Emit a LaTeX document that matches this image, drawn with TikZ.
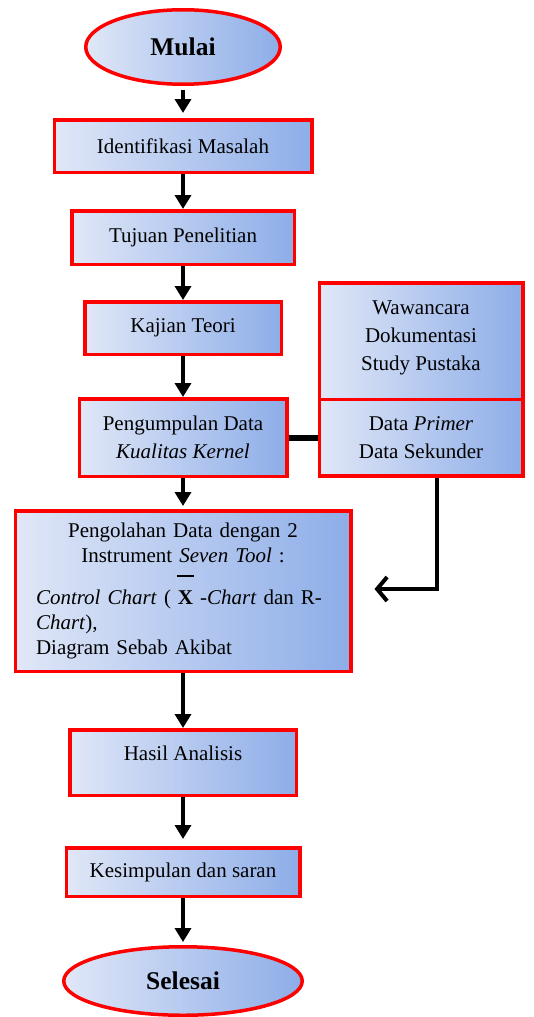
\documentclass[tikz,border=0pt]{standalone}
\usepackage{fontspec}
\setmainfont{Liberation Serif}
\usepackage{tikz}
\usetikzlibrary{arrows.meta,shapes,positioning,calc}
\definecolor{fcleft}{RGB}{224,231,247}
\definecolor{fcright}{RGB}{141,173,232}
\definecolor{fcred}{RGB}{255,0,0}
\tikzstyle{flowbox} = [rectangle, draw=fcred, line width=3.5pt, left color=fcleft, right color=fcright, minimum height=52.5pt, align=center, font=\fontsize{21}{28}\selectfont]
\tikzstyle{terminal} = [ellipse, draw=fcred, line width=3.5pt, left color=fcleft, right color=fcright, inner sep=0pt, font=\fontsize{25.5}{30}\selectfont\bfseries]
\tikzstyle{arrow} = [line width=3.5pt, -{Triangle[length=14pt,width=16pt]}]
\tikzstyle{feedarrow} = [line width=4pt, -{Straight Barb[length=10pt,width=24pt]}]

\begin{document}
\begin{tikzpicture}[x=1pt, y=1pt, node distance=35pt]
\useasboundingbox (0,0) rectangle (533,-1017);
% Main flow
\node[terminal, minimum width=194.5pt, minimum height=74.5pt] at (183,-47) (mulai) {Mulai};
\node[flowbox, minimum width=257.5pt, below=32pt of mulai] (ident) {Identifikasi Masalah};
\node[flowbox, minimum width=222.5pt, minimum height=53.5pt, below=35pt of ident] (tujuan) {Tujuan Penelitian};
\node[flowbox, minimum width=196.5pt, below=34pt of tujuan] (kajian) {Kajian Teori};
\node[flowbox, minimum width=207.5pt, minimum height=77.5pt, below=41pt of kajian] (peng) {Pengumpulan Data\\ \textit{Kualitas Kernel}};
\node[flowbox, minimum width=335.5pt, minimum height=160.5pt, text width=294pt, align=left, font=\fontsize{21}{25}\selectfont, below=31pt of peng] (olah) {{\centering Pengolahan Data dengan 2\\ Instrument \textit{Seven Tool} :\par}\vspace{12pt}
\textit{Control Chart} ( \rlap{\hspace{-1pt}\rule[28pt]{17pt}{1.5pt}}\textbf{X} -\textit{Chart} dan R-\\
\textit{Chart}),\\
Diagram Sebab Akibat};
\node[flowbox, minimum width=226.5pt, minimum height=65.5pt, text height=12pt, text depth=17pt, below=55pt of olah] (hasil) {Hasil Analisis};
\node[flowbox, minimum width=233.5pt, minimum height=48.5pt, below=49pt of hasil] (simpul) {Kesimpulan dan saran};
\node[terminal, minimum width=238.5pt, minimum height=68.5pt, below=47pt of simpul] (selesai) {Selesai};

% Data sources
\node[flowbox, minimum width=203.5pt, minimum height=76.5pt, right=29pt of peng] (data) {Data \textit{Primer}\\ Data Sekunder};
\node[flowbox, minimum width=203.5pt, minimum height=116.5pt, text depth=10pt, above=-3.5pt of data] (sumber) {Wawancara\\ Dokumentasi\\ Study Pustaka};
\coordinate (feed) at ($(olah.east)+(22,2)$);

% Connectors
\draw[arrow, shorten <=4pt, shorten >=5pt] (mulai) -- (ident);
\draw[arrow] (ident) -- (tujuan);
\draw[arrow] (tujuan) -- (kajian);
\draw[arrow] (kajian) -- (peng);
\draw[arrow, shorten >=3pt] (peng) -- (olah);
\draw[arrow] (olah) -- (hasil);
\draw[arrow, shorten >=7pt] (hasil) -- (simpul);
\draw[arrow, shorten >=3pt] (simpul) -- (selesai);
\draw[line width=6pt] (peng) -- (data);
\draw[feedarrow] ($(data.south)+(16,0)$) |- (feed);
\end{tikzpicture}
\end{document}
